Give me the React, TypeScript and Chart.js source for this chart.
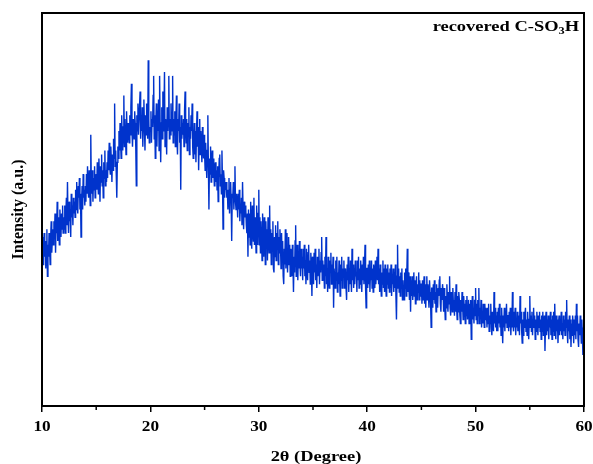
import React, { useEffect, useRef } from 'react';
import { Chart, registerables } from 'chart.js';

Chart.register(...registerables);

// 2θ axis: first angle and step of the scan (degrees)
const X_START = 10;
const X_STEP = 0.05;
const X_MAJOR_TICKS = [10, 20, 30, 40, 50, 60];
const X_TICK_LABELS = ['10', '20', '30', '40', '50', '60'];
const X_MINOR_TICKS = [15, 25, 35, 45, 55];

// Intensity (a.u.), one row per degree (d.00, d.05, … d.95)
const intensity: number[] = [
  39, 43, 36, 41, 44, 38, 42, 35, 40, 45, 33, 41, 38, 44, 40, 36, 43, 47, 39, 42,
  45, 41, 47, 43, 49, 39, 46, 44, 52, 42, 48, 45, 41, 50, 46, 43, 49, 45, 51, 44,
  48, 45, 51, 44, 49, 53, 46, 57, 48, 44, 52, 47, 50, 43, 54, 48, 51, 46, 53, 49,
  52, 48, 55, 50, 57, 51, 49, 56, 53, 58, 50, 54, 43, 52, 56, 50, 59, 53, 55, 51,
  56, 52, 59, 54, 61, 55, 53, 60, 57, 51, 69, 56, 54, 60, 52, 58, 55, 61, 53, 57,
  59, 55, 62, 57, 54, 63, 58, 52, 61, 57, 64, 56, 60, 53, 62, 58, 65, 56, 60, 57,
  62, 58, 65, 60, 67, 61, 59, 66, 62, 57, 64, 60, 68, 63, 77, 61, 65, 59, 53, 62,
  66, 63, 70, 65, 72, 67, 63, 74, 68, 65, 71, 79, 66, 73, 69, 64, 75, 70, 67, 72,
  71, 67, 74, 69, 76, 82, 70, 66, 73, 71, 68, 75, 72, 66, 56, 74, 70, 77, 69, 73,
  73, 80, 68, 74, 70, 76, 66, 72, 78, 71, 65, 74, 69, 77, 72, 68, 88, 73, 67, 71,
  70, 75, 67, 73, 71, 79, 84, 68, 74, 63, 72, 77, 66, 74, 70, 78, 65, 84, 71, 62,
  72, 76, 68, 80, 70, 74, 85, 66, 73, 71, 64, 76, 70, 75, 84, 68, 73, 69, 77, 71,
  70, 84, 67, 73, 69, 75, 66, 72, 79, 68, 64, 73, 70, 77, 67, 71, 55, 74, 68, 72,
  69, 73, 66, 75, 80, 70, 67, 73, 65, 72, 69, 76, 64, 71, 68, 74, 70, 77, 66, 63,
  67, 72, 64, 70, 62, 69, 75, 66, 71, 60, 68, 73, 64, 70, 66, 62, 71, 67, 63, 69,
  64, 60, 67, 62, 58, 65, 74, 61, 50, 63, 59, 66, 57, 62, 65, 58, 63, 60, 56, 61,
  62, 57, 60, 55, 61, 52, 58, 63, 64, 56, 59, 54, 65, 57, 45, 60, 58, 53, 57, 55,
  57, 53, 55, 50, 54, 58, 49, 55, 57, 52, 42, 54, 53, 57, 50, 55, 61, 52, 50, 54,
  52, 48, 54, 50, 55, 47, 51, 49, 53, 46, 57, 50, 45, 52, 48, 51, 50, 46, 44, 49,
  38, 50, 43, 49, 41, 52, 44, 40, 51, 45, 42, 53, 41, 48, 44, 39, 51, 46, 41, 49,
  55, 41, 48, 39, 47, 43, 37, 49, 42, 38, 48, 44, 36, 47, 41, 45, 37, 48, 43, 39,
  51, 39, 45, 36, 44, 40, 47, 35, 34, 43, 38, 46, 37, 44, 40, 47, 36, 43, 39, 45,
  41, 35, 44, 37, 42, 33, 31, 40, 36, 45, 35, 41, 44, 34, 39, 43, 36, 41, 33, 40,
  39, 33, 41, 36, 29, 38, 34, 42, 46, 33, 37, 41, 32, 39, 35, 42, 36, 33, 40, 35,
  38, 32, 40, 35, 41, 33, 37, 31, 40, 35, 32, 39, 41, 34, 37, 31, 39, 35, 28, 38,
  37, 31, 39, 34, 40, 32, 36, 30, 38, 33, 36, 40, 31, 37, 34, 39, 43, 32, 37, 33,
  36, 30, 38, 33, 43, 31, 35, 29, 38, 33, 30, 37, 34, 39, 31, 36, 33, 38, 25, 35,
  35, 30, 37, 32, 38, 29, 34, 31, 37, 33, 28, 36, 32, 38, 30, 35, 33, 37, 30, 34,
  35, 30, 27, 36, 32, 38, 29, 35, 31, 37, 33, 29, 40, 32, 36, 30, 35, 31, 37, 33,
  34, 29, 37, 32, 38, 30, 35, 31, 37, 33, 29, 36, 32, 38, 31, 35, 41, 30, 25, 35,
  35, 30, 36, 31, 37, 29, 34, 32, 37, 30, 35, 29, 36, 33, 30, 37, 31, 35, 38, 32,
  40, 31, 35, 29, 36, 32, 28, 34, 31, 37, 30, 35, 29, 36, 32, 28, 35, 31, 36, 30,
  34, 29, 35, 30, 36, 28, 33, 31, 35, 29, 34, 30, 36, 28, 22, 33, 41, 30, 35, 29,
  33, 28, 34, 30, 35, 27, 32, 29, 27, 34, 30, 35, 28, 33, 40, 29, 34, 30, 27, 33,
  24, 32, 28, 33, 27, 31, 34, 28, 32, 26, 30, 33, 27, 31, 29, 34, 27, 32, 28, 31,
  31, 26, 32, 27, 30, 33, 26, 31, 25, 30, 33, 27, 31, 28, 25, 32, 29, 26, 20, 30,
  30, 25, 31, 27, 32, 26, 29, 24, 31, 27, 25, 30, 28, 32, 33, 26, 24, 30, 27, 31,
  29, 24, 30, 26, 22, 28, 25, 31, 27, 24, 29, 26, 33, 25, 23, 29, 27, 24, 30, 26,
  27, 23, 29, 24, 31, 25, 22, 28, 24, 29, 27, 23, 21, 27, 24, 29, 26, 22, 28, 25,
  26, 21, 27, 23, 28, 22, 24, 27, 21, 26, 23, 27, 17, 24, 28, 22, 25, 21, 27, 23,
  30, 22, 26, 21, 27, 23, 30, 21, 25, 22, 27, 20, 24, 21, 26, 23, 20, 26, 22, 25,
  24, 20, 25, 21, 26, 19, 23, 21, 26, 20, 18, 24, 22, 19, 29, 21, 25, 20, 23, 19,
  24, 19, 25, 21, 26, 20, 23, 18, 25, 21, 16, 23, 20, 25, 19, 24, 21, 26, 20, 23,
  23, 19, 24, 20, 25, 18, 22, 20, 29, 21, 19, 24, 20, 25, 18, 22, 20, 24, 19, 23,
  23, 18, 28, 21, 24, 19, 16, 22, 18, 24, 20, 23, 25, 19, 22, 18, 24, 20, 17, 22,
  28, 20, 23, 19, 24, 18, 22, 25, 20, 23, 17, 22, 19, 24, 21, 18, 23, 20, 24, 19,
  22, 17, 23, 19, 24, 18, 21, 23, 14, 21, 24, 18, 22, 19, 23, 17, 22, 20, 24, 18,
  22, 17, 23, 19, 24, 18, 26, 20, 17, 23, 19, 22, 16, 21, 23, 18, 22, 19, 24, 18,
  21, 17, 23, 19, 22, 18, 24, 20, 27, 19, 16, 22, 19, 23, 17, 22, 15, 21, 18, 23,
  21, 16, 22, 18, 23, 17, 26, 19, 23, 17, 15, 21, 18, 23, 20, 16, 22, 18, 13, 20,
  19,
];

const SERIES_LABEL = 'recovered C-SO3H';
const X_TITLE = '2θ (Degree)';
const Y_TITLE = 'Intensity (a.u.)';
const FONT = '"Liberation Serif", "Times New Roman", serif';
const STRETCH = 1.23; // the reference's lettering is drawn wider than normal

function stretchedText(ctx: CanvasRenderingContext2D, text: string, x: number, y: number, align: CanvasTextAlign) {
  ctx.save();
  ctx.translate(x, y);
  ctx.scale(STRETCH, 1);
  ctx.textAlign = align;
  ctx.fillText(text, 0, 0);
  ctx.restore();
}

const framePlugin = {
  id: 'frameAndNote',
  afterDraw(chart: any) {
    const { ctx, chartArea } = chart;
    const { left, right, top, bottom } = chartArea;
    ctx.save();
    ctx.strokeStyle = '#000';
    ctx.lineWidth = 2;
    ctx.strokeRect(left, top, right - left, bottom - top);

    const xs = chart.scales.x;
    ctx.lineWidth = 1.5;
    for (const v of X_MINOR_TICKS) {
      const px = xs.getPixelForValue(v);
      ctx.beginPath();
      ctx.moveTo(px, bottom);
      ctx.lineTo(px, bottom + 4);
      ctx.stroke();
    }

    ctx.fillStyle = '#000';
    // tick labels
    ctx.font = 'bold 14px ' + FONT;
    ctx.textBaseline = 'middle';
    X_MAJOR_TICKS.forEach((v, i) => {
      stretchedText(ctx, X_TICK_LABELS[i], xs.getPixelForValue(v), bottom + 21, 'center');
    });
    // axis title
    ctx.font = 'bold 15px ' + FONT;
    stretchedText(ctx, X_TITLE, (left + right) / 2 + 3, 457, 'center');

    // annotation "recovered C-SO₃H"
    ctx.textBaseline = 'alphabetic';
    const main = 'bold 15px ' + FONT;
    const sub = 'bold 10px ' + FONT;
    const partA = 'recovered C-SO';
    const partB = '3';
    const partC = 'H';
    ctx.font = main;
    const wA = ctx.measureText(partA).width * STRETCH;
    const wC = ctx.measureText(partC).width * STRETCH;
    ctx.font = sub;
    const wB = ctx.measureText(partB).width * STRETCH;
    const endX = right - 5;
    const baseY = top + 18;
    let x = endX - (wA + wB + wC);
    ctx.font = main;
    stretchedText(ctx, partA, x, baseY, 'left');
    x += wA;
    ctx.font = sub;
    stretchedText(ctx, partB, x, baseY + 3, 'left');
    x += wB;
    ctx.font = main;
    stretchedText(ctx, partC, x, baseY, 'left');
    ctx.restore();
  },
};

export default function App() {
  const ref = useRef<HTMLCanvasElement | null>(null);

  useEffect(() => {
    document.body.style.margin = '0';
    const canvas = ref.current;
    if (!canvas) return;
    const points = intensity.map((y, i) => ({ x: +(X_START + i * X_STEP).toFixed(2), y }));
    const chart = new Chart(canvas, {
      type: 'line',
      data: {
        datasets: [
          {
            label: SERIES_LABEL,
            data: points,
            borderColor: '#0033cc',
            borderWidth: 1.4,
            pointRadius: 0,
            tension: 0,
            fill: false,
          },
        ],
      },
      options: {
        animation: false,
        responsive: false,
        maintainAspectRatio: false,
        layout: { padding: { top: 13, right: 9, left: 0, bottom: 0 } },
        plugins: {
          legend: { display: false },
          tooltip: { enabled: false },
        },
        scales: {
          x: {
            type: 'linear',
            min: 10,
            max: 60,
            afterBuildTicks: (s: any) => {
              s.ticks = X_MAJOR_TICKS.map((v) => ({ value: v }));
            },
            afterFit: (s: any) => {
              s.height = 58;
            },
            grid: {
              display: true,
              drawOnChartArea: false,
              drawTicks: true,
              tickLength: 6,
              color: '#000',
              lineWidth: 1.5,
            },
            border: { display: true, color: '#000', width: 2 },
            ticks: { display: false },
            title: { display: false },
          },
          y: {
            type: 'linear',
            min: 0,
            max: 100,
            afterFit: (s: any) => {
              s.width = 42;
            },
            grid: { display: false, drawTicks: false },
            border: { display: true, color: '#000', width: 2 },
            ticks: { display: false },
            title: {
              display: true,
              text: Y_TITLE,
              color: '#000',
              padding: { top: 9, bottom: 0 },
              font: { family: FONT, size: 16, weight: 'bold' },
            },
          },
        },
      },
      plugins: [framePlugin],
    });
    return () => chart.destroy();
  }, []);

  return (
    <div style={{ position: 'absolute', left: 0, top: 0, width: 593, height: 464 }}>
      <canvas ref={ref} width={593} height={464} />
    </div>
  );
}
